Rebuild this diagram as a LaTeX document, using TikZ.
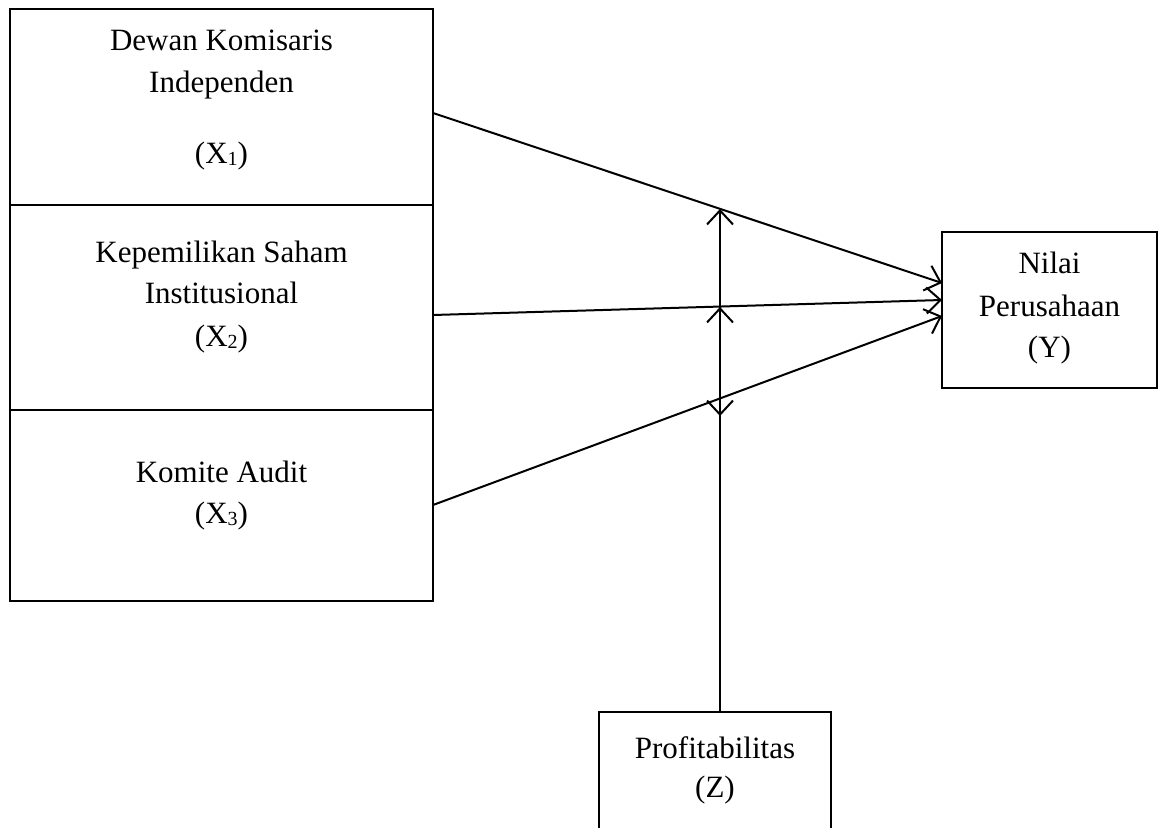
\documentclass[tikz,border=0pt]{standalone}
\usepackage{fontspec}
\setmainfont{Liberation Serif}
\usetikzlibrary{arrows.meta}
\newcommand{\sbs}[1]{{\fontsize{20}{20}\selectfont\raisebox{-2pt}{#1}}}
\begin{document}
\begin{tikzpicture}[x=1pt,y=-1pt,
  box/.style={draw,line width=2.2pt,inner sep=0pt},
  lbl/.style={font=\fontsize{31}{36}\selectfont,inner sep=0pt,anchor=base},
  conn/.style={line width=2pt,-{Straight Barb[length=14pt,width=26pt,line width=2pt]}}]
\useasboundingbox (0,0) rectangle (1158,827);
\clip (0,0) rectangle (1158,827);
% boxes
\node[box,minimum width=423pt,minimum height=196pt] (x1) at (221.5,107) {};
\node[box,minimum width=423pt,minimum height=205pt] (x2) at (221.5,307.5) {};
\node[box,minimum width=423pt,minimum height=191pt] (x3) at (221.5,505.5) {};
\node[box,minimum width=215pt,minimum height=156pt] (y) at (1049.5,310) {};
\node[box,minimum width=232pt,minimum height=140pt] (z) at (715,782) {};
% texts
\node[lbl] (t1a) at (221.5,50) {Dewan Komisaris};
\node[lbl] (t1b) at (221.5,92) {Independen};
\node[lbl] (t1c) at (221.5,163) {(X\sbs{1})};
\node[lbl] (t2a) at (221.5,262) {Kepemilikan Saham};
\node[lbl] (t2b) at (221.5,303) {Institusional};
\node[lbl] (t2c) at (221.5,346) {(X\sbs{2})};
\node[lbl] (t3a) at (221.5,482) {Komite Audit};
\node[lbl] (t3b) at (221.5,523) {(X\sbs{3})};
\node[lbl] (tya) at (1049.5,273) {Nilai};
\node[lbl] (tyb) at (1049.5,316) {Perusahaan};
\node[lbl] (tyc) at (1049.5,357) {(Y)};
\node[lbl] (tza) at (715,758) {Profitabilitas};
\node[lbl] (tzb) at (715,797) {(Z)};
% connector end points
\coordinate (s1) at (433,113);
\coordinate (s2) at (433,315);
\coordinate (s3) at (433,505);
\coordinate (e1) at (942,283);
\coordinate (e2) at (942,300);
\coordinate (e3) at (942,316);
\coordinate (zs) at (720,712);
\coordinate (m1) at (720,209);
\coordinate (m2) at (720,307);
\coordinate (m2b) at (720,340);
\coordinate (m3a) at (720,380);
\coordinate (m3) at (720,416);
\draw[conn] (s1) -- (e1);
\draw[conn] (s2) -- (e2);
\draw[conn] (s3) -- (e3);
\draw[conn] (zs) -- (m1);
\draw[conn] (m2b) -- (m2);
\draw[conn] (m3a) -- (m3);
\end{tikzpicture}
\end{document}
